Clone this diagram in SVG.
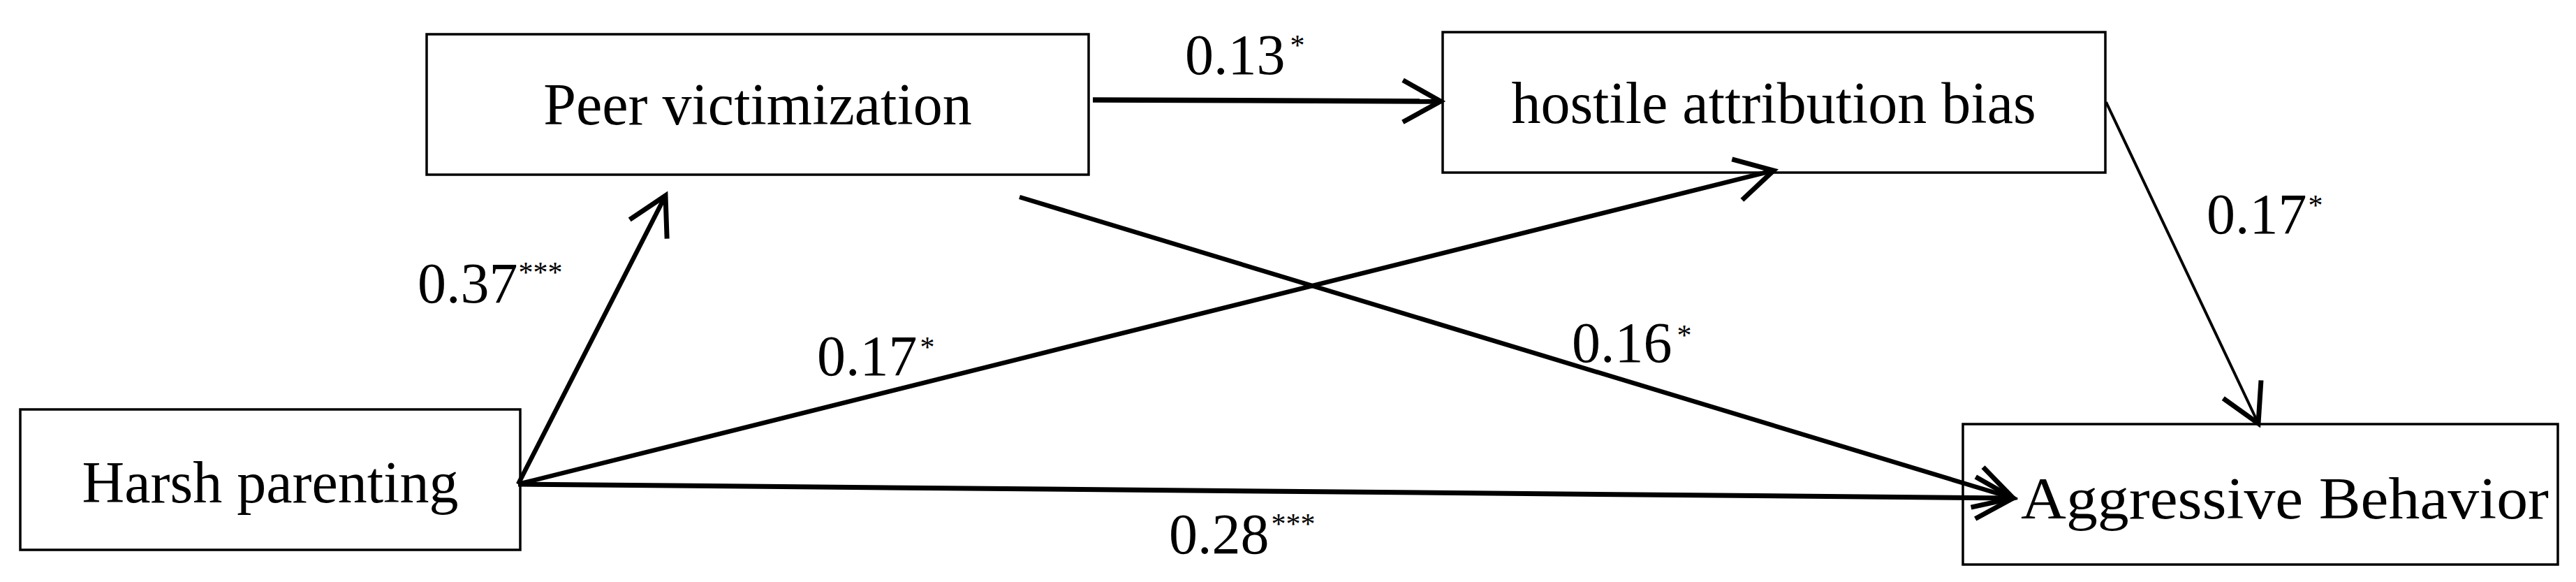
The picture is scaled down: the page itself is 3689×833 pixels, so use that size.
<svg xmlns="http://www.w3.org/2000/svg" width="3689" height="833" viewBox="0 0 3689 833">
<style>
.box{fill:#fff;stroke:#000;stroke-width:3.5}
.lbl{font-family:"Liberation Serif","Times New Roman",serif;font-size:84px;fill:#000}
.num{font-family:"Liberation Serif","Times New Roman",serif;font-size:82px;fill:#000}
.ast{font-size:42px}
.edge{fill:none;stroke:#000;stroke-width:6.5;marker-end:url(#arr)}
</style>
<defs>
<marker id="arr" markerUnits="userSpaceOnUse" viewBox="-70 -40 80 80" refX="0" refY="0" markerWidth="80" markerHeight="80" orient="auto" overflow="visible">
<path d="M-54,-30 L0,0 L-54,30" fill="none" stroke="#000" stroke-width="7" stroke-linejoin="miter"/>
</marker>
</defs>
<rect width="3689" height="833" fill="#fff"/>
<g id="harsh-parenting">
<rect class="box" x="29" y="586" width="716" height="201"/>
<text class="lbl" x="387" y="719" text-anchor="middle" font-size="83">Harsh parenting</text>
</g>
<g id="peer-victimization">
<rect class="box" x="611" y="49" width="948" height="201"/>
<text class="lbl" x="1085" y="178" text-anchor="middle">Peer victimization</text>
</g>
<g id="hostile-attribution-bias">
<rect class="box" x="2066" y="46" width="949" height="201"/>
<text class="lbl" x="2540" y="176" text-anchor="middle">hostile attribution bias</text>
</g>
<g id="aggressive-behavior">
<rect class="box" x="2811" y="607" width="852" height="201"/>
<text class="lbl" x="2894" y="742" font-size="86" textLength="756" lengthAdjust="spacingAndGlyphs">Aggressive Behavior</text>
</g>
<g id="labels">
<text class="num" x="598" y="433">0.37<tspan class="ast" dx="1" dy="-29">***</tspan></text>
<text class="num" x="1697" y="106">0.13<tspan class="ast" dx="7" dy="-27">*</tspan></text>
<text class="num" x="1170" y="537">0.17<tspan class="ast" dx="4" dy="-26">*</tspan></text>
<text class="num" x="2251" y="518">0.16<tspan class="ast" dx="7" dy="-24">*</tspan></text>
<text class="num" x="3160" y="334">0.17<tspan class="ast" dx="2" dy="-26">*</tspan></text>
<text class="num" x="1674" y="792">0.28<tspan class="ast" dx="3" dy="-28">***</tspan></text>
</g>
<g id="connectors">
<line class="edge" x1="742" y1="693" x2="953" y2="280"/>
<line class="edge" x1="742" y1="693" x2="2540" y2="244"/>
<line class="edge" x1="742" y1="693" x2="2883" y2="713" style="stroke-width:7"/>
<line class="edge" x1="1460" y1="282" x2="2883" y2="713"/>
<line class="edge" x1="1565" y1="143" x2="2063" y2="145" style="stroke-width:7.5"/>
<line class="edge" x1="3016" y1="146" x2="3234" y2="606" style="stroke-width:4"/>
</g>
</svg>
